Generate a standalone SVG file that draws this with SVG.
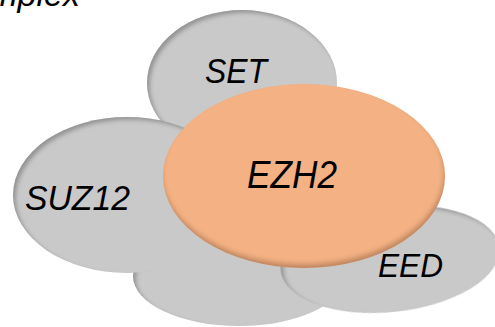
<svg xmlns="http://www.w3.org/2000/svg" width="495" height="327" viewBox="0 0 495 327">
  <style>
    .grey { fill: #c9c9c9; filter: url(#insetGrey); }
    .orange { fill: #f4b183; filter: url(#insetOrange); }
    .lbl { font-family: "Liberation Sans", Arial, sans-serif; font-style: italic; fill: #000; }
  </style>
  <defs>
    <filter id="insetGrey" x="-10%" y="-10%" width="120%" height="120%">
      <feOffset in="SourceAlpha" dx="3" dy="3" result="off"/>
      <feGaussianBlur in="off" stdDeviation="2.2" result="blur"/>
      <feComposite in="SourceAlpha" in2="blur" operator="out" result="rim"/>
      <feFlood flood-color="#000" flood-opacity="0.5"/>
      <feComposite in2="rim" operator="in" result="shadow"/>
      <feComposite in="shadow" in2="SourceGraphic" operator="over"/>
    </filter>
    <filter id="insetOrange" x="-10%" y="-10%" width="120%" height="120%">
      <feOffset in="SourceAlpha" dx="-1" dy="-4" result="off"/>
      <feGaussianBlur in="off" stdDeviation="2.5" result="blur"/>
      <feComposite in="SourceAlpha" in2="blur" operator="out" result="rim"/>
      <feFlood flood-color="#6b3a14" flood-opacity="0.5"/>
      <feComposite in2="rim" operator="in" result="shadow"/>
      <feComposite in="shadow" in2="SourceGraphic" operator="over"/>
    </filter>
  </defs>

  <text class="lbl" x="80" y="6" font-size="34" text-anchor="end">Complex</text>

  <g id="set">
    <ellipse class="grey" cx="242" cy="83" rx="95" ry="73"/>
    <text class="lbl" x="205" y="83" font-size="35" textLength="62" lengthAdjust="spacingAndGlyphs">SET</text>
  </g>
  <g id="bottom">
    <ellipse class="grey" cx="239" cy="276" rx="106" ry="50"/>
  </g>
  <g id="suz12">
    <ellipse class="grey" cx="127" cy="195" rx="114" ry="78"/>
    <text class="lbl" x="25" y="210" font-size="35" textLength="105" lengthAdjust="spacingAndGlyphs">SUZ12</text>
  </g>
  <g id="eed">
    <ellipse class="grey" cx="390" cy="259" rx="110" ry="53" transform="rotate(-6 390 259)"/>
    <text class="lbl" x="378" y="277" font-size="34" textLength="65" lengthAdjust="spacingAndGlyphs">EED</text>
  </g>
  <g id="ezh2">
    <ellipse class="orange" cx="304" cy="176" rx="141" ry="92"/>
    <text class="lbl" x="247" y="188" font-size="39" textLength="90" lengthAdjust="spacingAndGlyphs">EZH2</text>
  </g>
  <g id="connectors"/>
</svg>
